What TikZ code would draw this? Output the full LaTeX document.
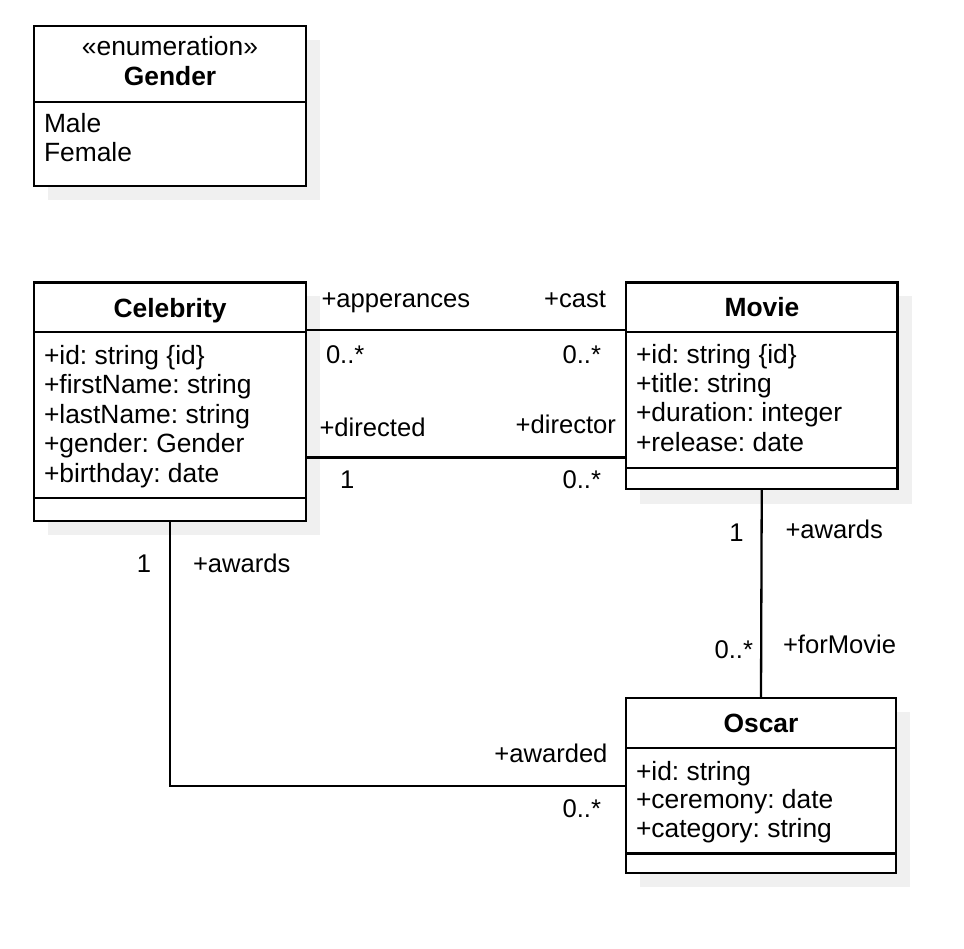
\documentclass[tikz,border=0pt]{standalone}
\usepackage{fontspec}
\setmainfont{Liberation Sans}
\frenchspacing
\begin{document}
\frenchspacing
\begin{tikzpicture}[x=1pt,y=-1pt,line width=2.3pt,
  umlbox/.style={draw=black,fill=white,rectangle,inner sep=0pt,outer sep=0pt,anchor=north west},
  shadowbox/.style={fill=black!6,draw=none},
  txt/.style={inner sep=0pt,outer sep=0pt,font=\fontsize{26.4}{30}\selectfont},
  ltxt/.style={inner sep=0pt,outer sep=0pt,font=\fontsize{25.6}{30}\selectfont},
  ttl/.style={inner sep=0pt,outer sep=0pt,font=\fontsize{26.4}{30}\selectfont\bfseries,anchor=base},
  attr/.style={txt,anchor=base west},
  lblL/.style={ltxt,anchor=base west},
  lblR/.style={ltxt,anchor=base east},
  assoc/.style={draw=black,line width=2.3pt}]
\useasboundingbox (0,0) rectangle (964,948);

% shadows
\fill[shadowbox] (48,40) rectangle (320,200);
\fill[shadowbox] (48,296) rectangle (320,535);
\fill[shadowbox] (640,296) rectangle (912,504);
\fill[shadowbox] (640,712) rectangle (910,887);

% boxes
\node[umlbox,minimum width=272pt,minimum height=160pt] (gender) at (34,26) {};
\node[umlbox,minimum width=272pt,minimum height=238.5pt] (celeb) at (34,282.5) {};
\node[umlbox,minimum width=271.5pt,minimum height=206.5pt] (movie) at (626,282.5) {};
\node[umlbox,minimum width=270pt,minimum height=175pt] (oscar) at (626,698) {};

% dividers
\draw ([yshift=-75.7pt]gender.north west) -- ([yshift=-75.7pt]gender.north east);
\draw ([yshift=-49.2pt]celeb.north west) -- ([yshift=-49.2pt]celeb.north east);
\draw ([yshift=22.7pt]celeb.south west) -- ([yshift=22.7pt]celeb.south east);
\draw ([yshift=-49.2pt]movie.north west) -- ([yshift=-49.2pt]movie.north east);
\draw ([yshift=21pt]movie.south west) -- ([yshift=21pt]movie.south east);
\draw ([yshift=-50pt]oscar.north west) -- ([yshift=-50pt]oscar.north east);
\draw ([yshift=19.5pt]oscar.south west) -- ([yshift=19.5pt]oscar.south east);

% Gender texts
\node[txt,anchor=base] (gst) at (170,55) {«enumeration»};
\node[ttl] (gname) at (170,85) {Gender};
\node[attr] (gm) at (44,132) {Male};
\node[attr] (gf) at (44,161) {Female};

% Celebrity texts
\node[ttl] (cname) at (170,317) {Celebrity};
\node[attr] (c1) at (44,364) {+id: string \{id\}};
\node[attr] (c2) at (44,393.5) {+firstName: string};
\node[attr] (c3) at (44,423) {+lastName: string};
\node[attr] (c4) at (44,452.5) {+gender: Gender};
\node[attr] (c5) at (44,482) {+birthday: date};

% Movie texts
\node[ttl] (mname) at (762,316) {Movie};
\node[attr] (m1) at (636,363) {+id: string \{id\}};
\node[attr] (m2) at (636,392.3) {+title: string};
\node[attr] (m3) at (636,421.6) {+duration: integer};
\node[attr] (m4) at (636,451) {+release: date};

% Oscar texts
\node[ttl] (oname) at (761,732) {Oscar};
\node[attr] (o1) at (636,780) {+id: string};
\node[attr] (o2) at (636,808.5) {+ceremony: date};
\node[attr] (o3) at (636,837) {+category: string};

% connectors
\draw[assoc] (celeb.east |- 0,330) -- (movie.west |- 0,330);
\draw[assoc] (celeb.east |- 0,457.5) -- (movie.west |- 0,457.5);
\draw[assoc] (celeb.south) |- (oscar.west |- 0,786);
\draw[assoc] (movie.south) -- (oscar.north);

% connector labels
\node[lblL] (l1) at (321.5,307) {+apperances};
\node[lblR] (l2) at (606,307) {+cast};
\node[lblL] (l3) at (326,363) {0..*};
\node[lblR] (l4) at (601,363) {0..*};
\node[lblL] (l5) at (319.5,436) {+directed};
\node[lblR] (l6) at (616,433.5) {+director};
\node[lblL] (l7) at (340,488.5) {1};
\node[lblR] (l8) at (601,488.5) {0..*};
\node[lblR] (l9) at (151,572) {1};
\node[lblL] (l10) at (193,572) {+awards};
\node[lblR] (l11) at (743.5,541.5) {1};
\node[lblL] (l12) at (785.5,538.5) {+awards};
\node[lblR] (l13) at (753,658.5) {0..*};
\node[lblL] (l14) at (783,653) {+forMovie};
\node[lblR] (l15) at (607.5,762) {+awarded};
\node[lblR] (l16) at (601,817.5) {0..*};
\end{tikzpicture}
\end{document}
